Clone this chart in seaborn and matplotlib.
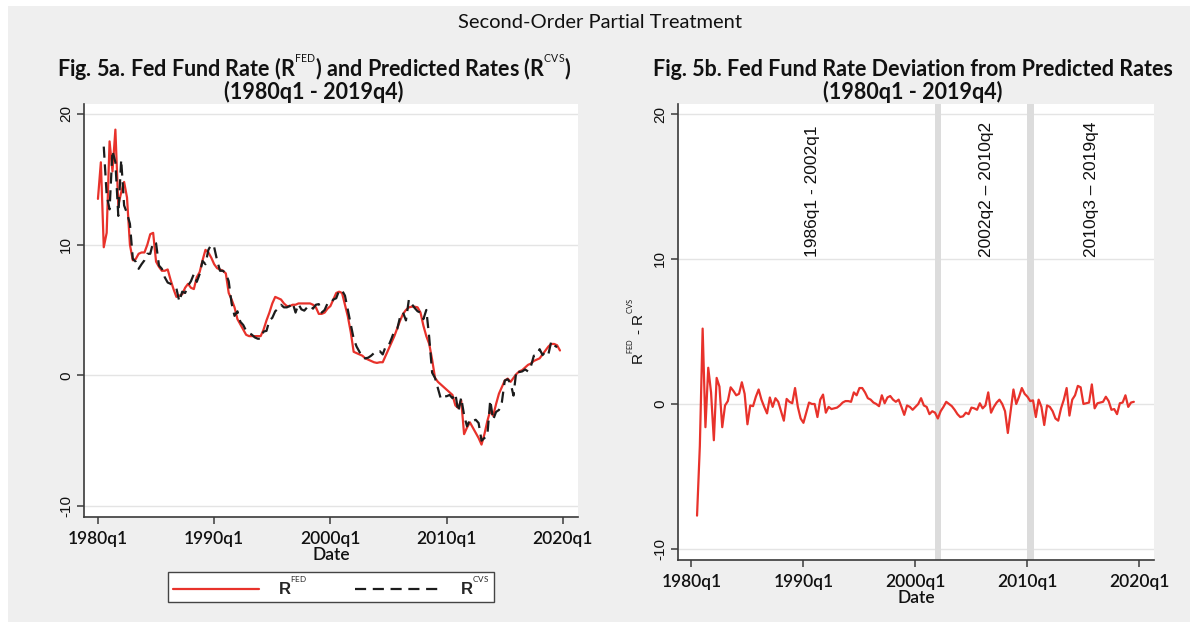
import numpy as np
import pandas as pd
import matplotlib
matplotlib.use("Agg")
import matplotlib.pyplot as plt
from matplotlib.patches import Rectangle
from matplotlib.lines import Line2D
import seaborn as sns

# Quarterly series, 1980q1 - 2019q4
start_year = 1980
fed_rate = [
    13.5, 16.3, 9.8, 10.9, 17.9, 15.6, 18.8, 13.0, 14.0, 14.8, 13.6, 10.0,
    8.8, 8.9, 9.3, 9.4, 9.4, 10.0, 10.8, 10.9, 8.7, 8.3, 8.0, 8.0,
    8.1, 7.3, 6.6, 6.0, 6.1, 6.2, 6.7, 7.0, 6.7, 6.6, 7.5, 7.9,
    8.8, 9.6, 9.4, 9.0, 8.5, 8.2, 8.1, 8.0, 7.8, 6.3, 5.8, 5.2,
    4.3, 3.9, 3.5, 3.1, 3.0, 3.0, 3.0, 3.0, 3.0, 3.5, 4.2, 4.8,
    5.5, 6.0, 5.9, 5.8, 5.5, 5.3, 5.3, 5.4, 5.4, 5.5, 5.5, 5.5,
    5.5, 5.5, 5.4, 5.2, 4.7, 4.7, 4.8, 5.1, 5.3, 5.8, 6.3, 6.4,
    6.3, 5.4, 4.5, 3.3, 1.8, 1.7, 1.6, 1.5, 1.3, 1.2, 1.1, 1.0,
    0.95, 1.0, 1.0, 1.5, 2.0, 2.5, 3.0, 3.6, 4.2, 4.7, 5.0, 5.2,
    5.25, 5.25, 5.2, 4.8, 3.8, 3.0, 2.4, 1.2, -0.2, -0.5, -0.7, -0.9,
    -1.1, -1.3, -1.5, -2.3, -2.5, -1.9, -4.5, -4.0, -3.6, -4.0, -4.4, -4.8,
    -5.3, -4.5, -3.5, -2.7, -3.1, -2.2, -1.4, -0.9, -0.4, -0.25, -0.5, -0.2,
    0.1, 0.3, 0.4, 0.6, 0.8, 0.9, 1.1, 1.2, 1.3, 1.6, 1.9, 2.2,
    2.4, 2.4, 2.3, 1.9,
]

# Predicted (CVS) rate, available from 1980q3 to 2019q3
cvs_first_quarter = 2
cvs_rate = [
    17.5, 13.8, 12.7, 17.2, 16.3, 12.2, 16.5, 13.0, 12.4, 11.6,
    8.9, 8.7, 8.15, 8.5, 8.8, 9.3, 9.3, 10.2, 10.1, 8.4, 8.15, 7.5,
    7.1, 7.0, 6.8, 6.65, 5.65, 6.4, 6.3, 6.85, 7.2, 7.75, 7.15, 7.75,
    8.75, 8.5, 9.6, 10.0, 9.8, 8.8, 8.0, 8.0, 7.8, 7.2, 5.5, 4.55,
    4.9, 4.1, 3.85, 3.4, 3.25, 3.1, 2.9, 2.8, 2.8, 3.35, 3.4, 4.2,
    4.4, 4.9, 5.1, 5.4, 5.2, 5.2, 5.3, 5.55, 4.8, 5.45, 5.05, 4.95,
    5.2, 5.35, 5.1, 5.4, 5.45, 4.8, 5.0, 5.5, 5.5, 5.8, 5.9, 6.5,
    6.5, 6.1, 5.0, 3.9, 2.8, 2.2, 1.8, 1.35, 1.3, 1.35, 1.5, 1.7,
    1.85, 1.85, 1.6, 2.2, 2.25, 2.8, 3.4, 3.55, 4.5, 4.8, 4.2, 5.8,
    5.45, 5.15, 4.9, 4.8, 4.3, 5.0, 2.9, 0.2, -0.2, -1.0, -1.8, -1.6,
    -1.6, -1.5, -1.75, -1.4, -2.8, -1.7, -3.05, -3.9, -3.4, -3.5, -3.4, -3.65,
    -5.0, -4.8, -4.6, -1.9, -3.4, -2.8, -2.65, -2.05, -0.4, -0.3, -0.6, -1.55,
    0.4, 0.25, 0.3, 0.45, 0.3, 0.7, 1.5, 1.55, 2.0, 1.55, 1.8, 1.6,
    2.6, 2.3, 2.15,
]

year_ticks = [1980, 1990, 2000, 2010, 2020]
year_tick_labels = [f"{y}q1" for y in year_ticks]
value_ticks = [-10, 0, 10, 20]

# Regime periods marked on the deviation panel
regime_labels = ["1986q1 - 2002q1", "2002q2 \u2013 2010q2", "2010q3 \u2013 2019q4"]
regime_label_dates = [1990.8, 2006.3, 2015.7]
regime_breaks = [(2001.75, 2002.3), (2010.0, 2010.55)]

# ---------------------------------------------------------------------------
n = len(fed_rate)
dates = start_year + np.arange(n) / 4.0
cvs_full = np.full(n, np.nan)
cvs_full[cvs_first_quarter:cvs_first_quarter + len(cvs_rate)] = cvs_rate
df = pd.DataFrame({"date": dates, "fed": fed_rate, "cvs": cvs_full})
df["gap"] = df["fed"] - df["cvs"]

RED = "#e8322b"
DARK = "#1c1c1c"
BG = "#efefef"
GRID = "#e4e4e4"
AXIS = "#3a3a3a"
INK = "#111111"

sns.set_theme(style="white")
plt.rcParams["font.family"] = ["Lato", "DejaVu Sans"]
plt.rcParams["mathtext.fontset"] = "custom"
plt.rcParams["mathtext.rm"] = "Lato"
plt.rcParams["mathtext.bf"] = "Lato:bold"

# tiny raised tags, as in R^FED / R^CVS
R_FED = r"R$^{^{\mathrm{FED}}}$"
R_CVS = r"R$^{^{\mathrm{CVS}}}$"

W, H = 1194, 627
fig = plt.figure(figsize=(W / 100, H / 100), dpi=100, facecolor="white")
fig.patches.append(Rectangle((8 / W, 1 - 622 / H), (1190 - 8) / W, (622 - 6) / H,
                             transform=fig.transFigure, facecolor=BG,
                             edgecolor="none", zorder=-10))


def px_axes(x0, y0, x1, y1):
    return fig.add_axes([x0 / W, 1 - y1 / H, (x1 - x0) / W, (y1 - y0) / H])


ax1 = px_axes(84, 104, 578, 517)
ax2 = px_axes(678, 104, 1154, 560)

sns.lineplot(data=df, x="date", y="fed", ax=ax1, color=RED, lw=1.6,
             estimator=None, zorder=3)
sns.lineplot(data=df.dropna(subset=["cvs"]), x="date", y="cvs", ax=ax1,
             color=DARK, lw=1.6, linestyle=(0, (5, 3)), estimator=None, zorder=4)
sns.lineplot(data=df.dropna(subset=["gap"]), x="date", y="gap", ax=ax2,
             color=RED, lw=1.6, estimator=None, zorder=3)

for lo, hi in regime_breaks:
    ax2.axvspan(lo, hi, color="#dcdcdc", lw=0, zorder=1)

for lab, d in zip(regime_labels, regime_label_dates):
    ax2.text(d, 10.15, lab, rotation=90, ha="center", va="bottom",
             fontsize=12.5, family=["Liberation Sans", "DejaVu Sans"],
             color=INK, zorder=5)

for ax, ylim in ((ax1, (-10.84, 20.76)), (ax2, (-10.76, 20.69))):
    ax.set_facecolor("white")
    ax.set_xlim(1978.8, 2021.3)
    ax.set_ylim(*ylim)
    ax.set_xticks(year_ticks)
    ax.set_xticklabels(year_tick_labels, fontsize=12.5, fontweight="semibold",
                       color=INK)
    ax.set_yticks(value_ticks)
    ax.set_yticklabels([str(v) for v in value_ticks], rotation=90, va="center",
                       fontsize=11, family=["Liberation Sans", "DejaVu Sans"],
                       color=INK)
    ax.grid(axis="y", color=GRID, lw=1.0, zorder=0)
    ax.grid(axis="x", visible=False)
    ax.set_axisbelow(True)
    for s in ("top", "right"):
        ax.spines[s].set_visible(False)
    for s in ("left", "bottom"):
        ax.spines[s].set_color(AXIS)
        ax.spines[s].set_linewidth(1.2)
    ax.tick_params(axis="both", direction="out", length=5, width=1.1,
                   color=AXIS, bottom=True, left=True)
    ax.tick_params(axis="x", pad=5)
    ax.tick_params(axis="y", pad=3)
    ax.set_xlabel("Date", fontsize=12.5, fontweight="semibold", labelpad=0,
                  color=INK)

ax1.set_ylabel("")
ax2.set_ylabel(R_FED + " - " + R_CVS, fontsize=11,
               family=["Liberation Sans", "DejaVu Sans"], labelpad=4, color=INK)

# Titles
fig.text(600 / W, 1 - 22 / H, "Second-Order Partial Treatment", ha="center",
         va="center", fontsize=14.5, color=INK)
fig.text(314 / W, 1 - 76 / H,
         "Fig. 5a. Fed Fund Rate (" + R_FED + ") and Predicted Rates (" + R_CVS + ")",
         ha="center", va="baseline", fontsize=15.5, fontweight="bold", color=INK)
fig.text(314 / W, 1 - 92 / H, "(1980q1 - 2019q4)", ha="center", va="center",
         fontsize=15.5, fontweight="bold", color=INK)
fig.text(913 / W, 1 - 69 / H, "Fig. 5b. Fed Fund Rate Deviation from Predicted Rates",
         ha="center", va="center", fontsize=15.5, fontweight="bold", color=INK)
fig.text(913 / W, 1 - 92 / H, "(1980q1 - 2019q4)", ha="center", va="center",
         fontsize=15.5, fontweight="bold", color=INK)

# Legend below the left panel
handles = [Line2D([], [], color=RED, lw=1.6),
           Line2D([], [], color=DARK, lw=1.6, linestyle=(0, (5, 3)))]
labels = [R_FED, R_CVS]
leg = fig.legend(handles, labels, loc="center", ncol=2,
                 bbox_to_anchor=(331 / W, 1 - 587 / H), frameon=True,
                 fancybox=False, edgecolor="#444444", facecolor="white",
                 framealpha=1, handlelength=5.2, handletextpad=1.1,
                 columnspacing=2.9, borderpad=0.25, borderaxespad=0,
                 prop={"family": ["Liberation Sans", "DejaVu Sans"],
                       "weight": "bold", "size": 12})
leg.get_frame().set_linewidth(1.0)

fig.savefig("out.png", dpi=100, facecolor=fig.get_facecolor())
